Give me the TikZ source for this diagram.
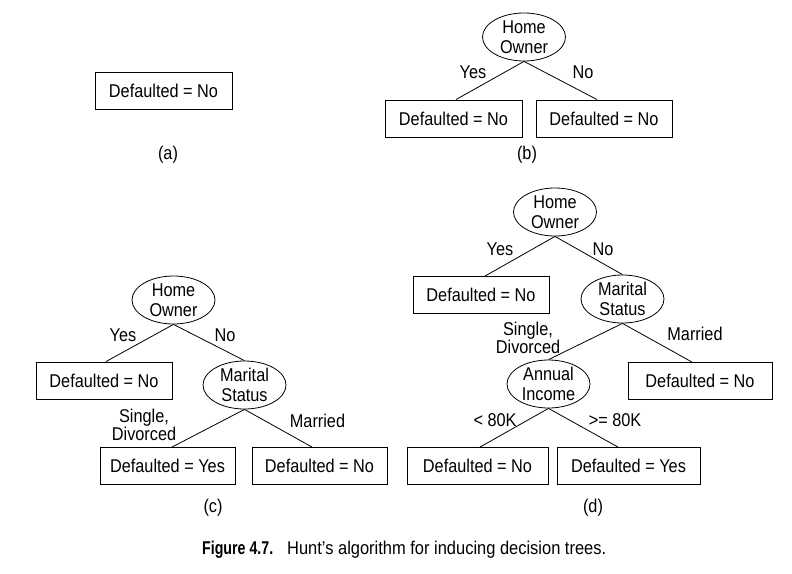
\documentclass[tikz,border=0pt]{standalone}
\usepackage{fontspec}
\usepackage{graphicx}
\setmainfont{Liberation Sans}[FakeStretch=0.88]
\newfontfamily\capfont{Liberation Sans}
\usetikzlibrary{shapes.geometric}
\begin{document}
\begin{tikzpicture}[x=1pt,y=-1pt,
  every node/.style={font=\fontsize{18.5}{19.5}\selectfont},
  leaf/.style={draw, line width=0.9pt, minimum width=137pt, minimum height=37pt, inner sep=0pt},
  test/.style={draw, ellipse, line width=0.8pt, minimum width=83pt, minimum height=48pt, inner sep=0pt, align=center},
  edge/.style={line width=0.8pt},
  lbl/.style={inner sep=0pt, align=center, font=\fontsize{18.5}{17}\selectfont},
  captext/.style={inner sep=0pt, anchor=base west, font=\capfont\fontsize{18.5}{20}\selectfont}]
\path[use as bounding box, fill=white] (0,0) rectangle (792,573);

% (a)
\node[leaf] (a1) at (163.5,90.5) {Defaulted = No};
\node[lbl] (la) at (168,155) {(a)};

% (b)
\node[test] (b0) at (524,37) {Home\\Owner};
\node[leaf] (b1) at (453.5,118.5) {Defaulted = No};
\node[leaf, minimum width=136pt] (b2) at (604,118.5) {Defaulted = No};
\draw[edge] (b0.south) -- ([xshift=2.5pt]b1.north);
\draw[edge] (b0.south) -- ([xshift=-7pt]b2.north);
\node[lbl] (byes) at (473,72) {Yes};
\node[lbl] (bno) at (583,72) {No};
\node[lbl] (lb) at (527,155) {(b)};

% (c)
\node[test] (c0) at (173.5,300) {Home\\Owner};
\node[leaf, minimum width=136pt] (c1) at (104,380.5) {Defaulted = No};
\node[test] (c2) at (244.5,385) {Marital\\Status};
\node[leaf, minimum width=135pt] (c3) at (167.5,466) {Defaulted = Yes};
\node[leaf, minimum width=135pt] (c4) at (319.5,466) {Defaulted = No};
\draw[edge] (c0.south) -- ([xshift=2pt]c1.north);
\draw[edge] (c0.south) -- (c2.north);
\draw[edge] (c2.south) -- ([xshift=4.5pt]c3.north);
\draw[edge] (c2.south) -- ([xshift=-7.5pt]c4.north);
\node[lbl] (cyes) at (123,335) {Yes};
\node[lbl] (cno) at (225,335) {No};
\node[lbl] (csd) at (144,425) {Single,\\Divorced};
\node[lbl] (cmar) at (317.5,421) {Married};
\node[lbl] (lc) at (213,508) {(c)};

% (d)
\node[test] (d0) at (555,212) {Home\\Owner};
\node[leaf, minimum width=136pt] (d1) at (481,295) {Defaulted = No};
\node[test] (dm) at (622.5,299) {Marital\\Status};
\node[leaf, minimum width=144pt] (d2) at (700,381) {Defaulted = No};
\node[test] (da) at (548.5,384) {Annual\\Income};
\node[leaf, minimum width=141pt] (d3) at (477.5,466) {Defaulted = No};
\node[leaf, minimum width=143pt] (d4) at (628.5,466) {Defaulted = Yes};
\draw[edge] (d0.south) -- ([xshift=4pt]d1.north);
\draw[edge] (d0.south) -- (dm.north);
\draw[edge] (dm.south) -- (da.north);
\draw[edge] (dm.south) -- ([xshift=-8pt]d2.north);
\draw[edge] (da.south) -- ([xshift=2.5pt]d3.north);
\draw[edge] (da.south) -- ([xshift=-10.5pt]d4.north);
\node[lbl] (dyes) at (500,249) {Yes};
\node[lbl] (dno) at (603,249) {No};
\node[lbl] (dsd) at (528,338) {Single,\\Divorced};
\node[lbl] (dmar) at (695,334) {Married};
\node[lbl] (dlt) at (495,420) {< 80K};
\node[lbl] (dge) at (615,420) {>= 80K};
\node[lbl] (ld) at (593,508) {(d)};

% caption
\node[captext] (capfig) at (202,554) {\resizebox{71pt}{\height}{\textbf{Figure 4.7.}}};
\node[captext] (caprest) at (287,554) {\resizebox{319pt}{\height}{Hunt’s algorithm for inducing decision trees.}};
\end{tikzpicture}
\end{document}
